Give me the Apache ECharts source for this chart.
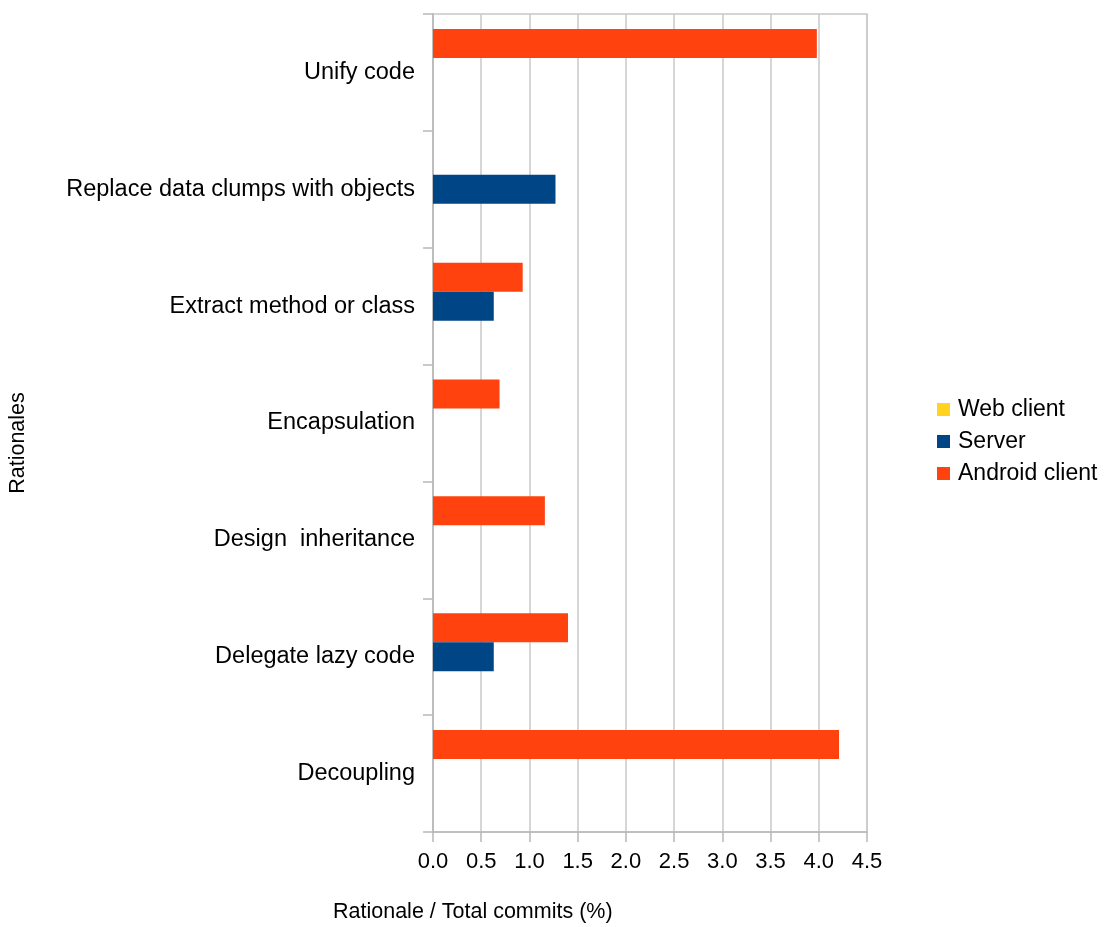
<!DOCTYPE html>
<html>
<head>
<meta charset="utf-8">
<script src="https://cdn.jsdelivr.net/npm/echarts@6/dist/echarts.min.js"></script>
<style>
html,body{margin:0;padding:0;background:#fff;}
#chart{width:1113px;height:927px;}
</style>
</head>
<body>
<div id="chart"></div>
<script>
// Categories listed bottom to top
const categories = ['Decoupling', 'Delegate lazy code', 'Design  inheritance', 'Encapsulation', 'Extract method or class', 'Replace data clumps with objects', 'Unify code'];
const webClient = [0, 0, 0, 0, 0, 0, 0];
const server = [0, 0.63, 0, 0, 0.63, 1.27, 0];
const androidClient = [4.21, 1.40, 1.16, 0.69, 0.93, 0, 3.98];
const xTicks = [0, 0.5, 1.0, 1.5, 2.0, 2.5, 3.0, 3.5, 4.0, 4.5];
const legendNames = ['Web client', 'Server', 'Android client'];

const FONT = '"Liberation Sans", Arial, Helvetica, sans-serif';
const chart = echarts.init(document.getElementById('chart'), null, {renderer: 'canvas'});
chart.setOption({
  backgroundColor: '#ffffff',
  animation: false,
  textStyle: {fontFamily: FONT, color: '#000'},
  grid: {
    left: 433, top: 14, right: 246, bottom: 95,
    show: true, borderColor: '#c8c8c8', borderWidth: 1.5, containLabel: false
  },
  legend: {
    orient: 'vertical',
    left: 932, top: 393,
    itemWidth: 13, itemHeight: 13, itemGap: 9,
    icon: 'rect',
    data: legendNames,
    textStyle: {fontFamily: FONT, fontSize: 23, color: '#000', padding: [0, 0, 0, 3]}
  },
  xAxis: {
    type: 'value',
    min: xTicks[0], max: xTicks[xTicks.length - 1], interval: 0.5,
    axisLine: {show: true, lineStyle: {color: '#b8b8b8', width: 1.5}},
    axisTick: {show: true, inside: false, length: 10, lineStyle: {color: '#b8b8b8', width: 1.5}},
    splitLine: {show: true, lineStyle: {color: '#c8c8c8', width: 1.5}},
    axisLabel: {
      margin: 19, fontSize: 22, color: '#000', fontFamily: FONT,
      formatter: v => v.toFixed(1)
    }
  },
  yAxis: {
    type: 'category',
    data: categories,
    axisLine: {show: true, lineStyle: {color: '#b8b8b8', width: 1.5}},
    axisTick: {show: true, inside: false, length: 10, lineStyle: {color: '#b8b8b8', width: 1.5}},
    splitLine: {show: false},
    axisLabel: {margin: 18, fontSize: 23.5, color: '#000', fontFamily: FONT, padding: [4, 0, 0, 0]}
  },
  graphic: [
    {
      type: 'text', left: 333, top: 901,
      style: {text: 'Rationale / Total commits (%)', font: '21.5px ' + FONT, fill: '#000'}
    },
    {
      type: 'text', x: 18, y: 443, rotation: Math.PI / 2,
      style: {text: 'Rationales', font: '21.5px ' + FONT, fill: '#000', align: 'center', verticalAlign: 'middle'}
    }
  ],
  series: [
    {name: 'Android client', type: 'bar', data: androidClient, barWidth: 29, barGap: '0%', itemStyle: {color: '#ff420e'}},
    {name: 'Server', type: 'bar', data: server, barWidth: 29, barGap: '0%', itemStyle: {color: '#004586'}},
    {name: 'Web client', type: 'bar', data: webClient, barWidth: 29, barGap: '0%', itemStyle: {color: '#ffd320'}}
  ]
});
</script>
</body>
</html>
